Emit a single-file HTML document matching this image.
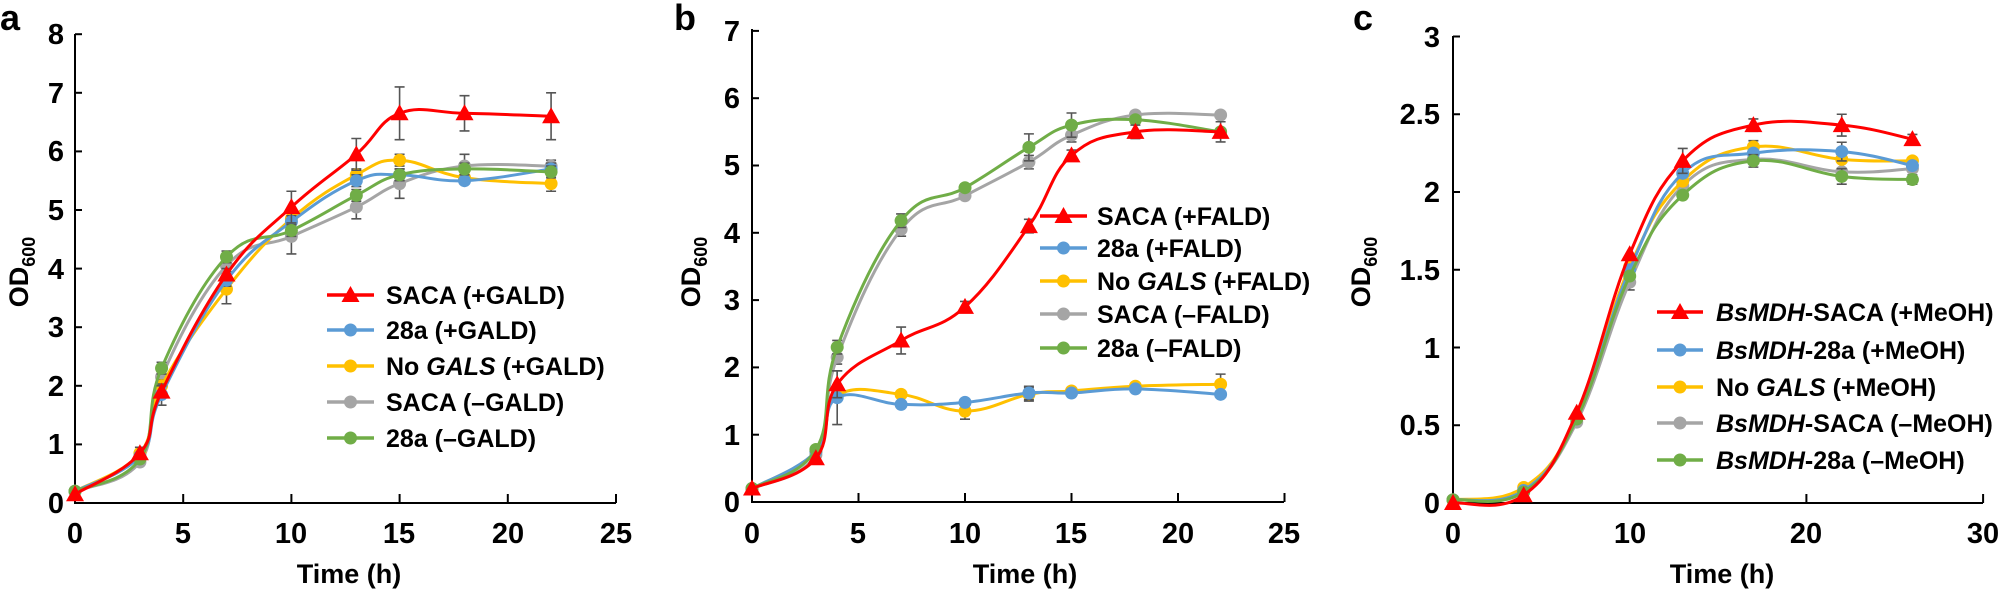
<!DOCTYPE html>
<html><head><meta charset="utf-8"><style>
html,body{margin:0;padding:0;background:#fff;}
svg{display:block;font-family:"Liberation Sans",Arial,sans-serif;font-weight:bold;}
.t{font-size:29px;}
.l{font-size:25px;}
</style></head><body>
<svg id="s" width="1998" height="590" viewBox="0 0 1998 590" xmlns="http://www.w3.org/2000/svg">
<g id="plots"></g>
<!-- Panel a text -->
<text x="0" y="30" font-size="36">a</text>
<g class="t" text-anchor="end">
<text x="64" y="513">0</text><text x="64" y="454">1</text><text x="64" y="396">2</text><text x="64" y="337">3</text><text x="64" y="279">4</text><text x="64" y="220">5</text><text x="64" y="161">6</text><text x="64" y="103">7</text><text x="64" y="44">8</text>
</g>
<g class="t" text-anchor="middle">
<text x="75" y="543">0</text><text x="183" y="543">5</text><text x="291" y="543">10</text><text x="399" y="543">15</text><text x="508" y="543">20</text><text x="616" y="543">25</text>
<text x="349" y="583" font-size="27">Time (h)</text>
</g>
<text transform="translate(28,272) rotate(-90)" text-anchor="middle" font-size="27">OD<tspan font-size="18" dy="7">600</tspan></text>
<g class="l">
<text x="386" y="304">SACA (+GALD)</text>
<text x="386" y="339">28a (+GALD)</text>
<text x="386" y="375">No <tspan font-style="italic">GALS</tspan>  (+GALD)</text>
<text x="386" y="411">SACA (–GALD)</text>
<text x="386" y="447">28a (–GALD)</text>
</g>
<!-- Panel b text -->
<text x="674" y="30" font-size="36">b</text>
<g class="t" text-anchor="end">
<text x="740" y="512">0</text><text x="740" y="445">1</text><text x="740" y="377">2</text><text x="740" y="310">3</text><text x="740" y="243">4</text><text x="740" y="175">5</text><text x="740" y="108">6</text><text x="740" y="41">7</text>
</g>
<g class="t" text-anchor="middle">
<text x="752" y="543">0</text><text x="858" y="543">5</text><text x="965" y="543">10</text><text x="1071" y="543">15</text><text x="1178" y="543">20</text><text x="1284" y="543">25</text>
<text x="1025" y="583" font-size="27">Time (h)</text>
</g>
<text transform="translate(700,272) rotate(-90)" text-anchor="middle" font-size="27">OD<tspan font-size="18" dy="7">600</tspan></text>
<g class="l">
<text x="1097" y="225">SACA (+FALD)</text>
<text x="1097" y="257">28a (+FALD)</text>
<text x="1097" y="290">No <tspan font-style="italic">GALS</tspan> (+FALD)</text>
<text x="1097" y="323">SACA (–FALD)</text>
<text x="1097" y="357">28a (–FALD)</text>
</g>
<!-- Panel c text -->
<text x="1353" y="30" font-size="36">c</text>
<g class="t" text-anchor="end">
<text x="1440" y="513">0</text><text x="1440" y="435">0.5</text><text x="1440" y="358">1</text><text x="1440" y="280">1.5</text><text x="1440" y="202">2</text><text x="1440" y="124">2.5</text><text x="1440" y="47">3</text>
</g>
<g class="t" text-anchor="middle">
<text x="1453" y="543">0</text><text x="1630" y="543">10</text><text x="1806" y="543">20</text><text x="1983" y="543">30</text>
<text x="1722" y="583" font-size="27">Time (h)</text>
</g>
<text transform="translate(1370,272) rotate(-90)" text-anchor="middle" font-size="27">OD<tspan font-size="18" dy="7">600</tspan></text>
<g class="l">
<text x="1716" y="321"><tspan font-style="italic">BsMDH</tspan>-SACA (+MeOH)</text>
<text x="1716" y="359"><tspan font-style="italic">BsMDH</tspan>-28a (+MeOH)</text>
<text x="1716" y="396">No <tspan font-style="italic">GALS</tspan> (+MeOH)</text>
<text x="1716" y="432"><tspan font-style="italic">BsMDH</tspan>-SACA (–MeOH)</text>
<text x="1716" y="469"><tspan font-style="italic">BsMDH</tspan>-28a (–MeOH)</text>
</g>
</svg>
<script>
var NS="http://www.w3.org/2000/svg",G=document.getElementById("plots");
function el(n,a){var e=document.createElementNS(NS,n);for(var k in a)e.setAttribute(k,a[k]);G.appendChild(e);return e;}
var C=["#ff0000","#5b9bd5","#ffc000","#a5a5a5","#70ad47"];
function spline(p){var d="M"+p[0][0]+","+p[0][1];for(var i=0;i<p.length-1;i++){var p0=p[i-1]||p[i],p1=p[i],p2=p[i+1],p3=p[i+2]||p2;var t=0.2;
d+=" C"+(p1[0]+(p2[0]-p0[0])*t)+","+(p1[1]+(p2[1]-p0[1])*t)+" "+(p2[0]-(p3[0]-p1[0])*t)+","+(p2[1]-(p3[1]-p1[1])*t)+" "+p2[0]+","+p2[1];}return d;}
function marker(x,y,i){if(i==0)el("polygon",{points:(x)+","+(y-9)+" "+(x-9)+","+(y+7)+" "+(x+9)+","+(y+7),fill:C[0]});else el("circle",{cx:x,cy:y,r:6.5,fill:C[i]});}
function panel(o){
 // axes
 el("path",{d:"M"+o.x0+","+o.yt+" V"+o.y0+" H"+o.x1,stroke:"#000","stroke-width":2,fill:"none"});
 o.yticks.forEach(function(v){var y=o.y0-v*o.ky;el("line",{x1:o.x0,x2:o.x0+7,y1:y,y2:y,stroke:"#000","stroke-width":2});});
 o.xticks.forEach(function(t){var x=o.x0+t*o.kx;el("line",{x1:x,x2:x,y1:o.y0,y2:o.y0-9,stroke:"#000","stroke-width":2});});
 var order=[3,2,1,4,0];
 order.forEach(function(i){var s=o.data[i];var pts=o.t.map(function(t,j){return [o.x0+t*o.kx,o.y0-s[j]*o.ky];});
  if(o.err&&o.err[i])o.err[i].forEach(function(e,j){if(!e)return;var x=pts[j][0],y=pts[j][1],h=e*o.ky;
   el("path",{d:"M"+x+","+(y-h)+"V"+(y+h)+"M"+(x-5)+","+(y-h)+"H"+(x+5)+"M"+(x-5)+","+(y+h)+"H"+(x+5),stroke:"#555","stroke-width":1.6,fill:"none"});});
  el("path",{d:spline(pts),stroke:C[i],"stroke-width":3,fill:"none"});
  pts.forEach(function(p){marker(p[0],p[1],i);});});
 o.leg.forEach(function(y,i){el("line",{x1:o.lx0,x2:o.lx1,y1:y,y2:y,stroke:C[i],"stroke-width":3.5});marker((o.lx0+o.lx1)/2,y,i);});
}
panel({x0:75,x1:616,y0:503,yt:34,kx:21.64,ky:58.6,yticks:[1,2,3,4,5,6,7,8],xticks:[5,10,15,20,25],
 t:[0,3,4,7,10,13,15,18,22],
 data:[[0.15,0.85,1.9,3.9,5.05,5.95,6.65,6.65,6.6],[0.2,0.8,1.85,3.8,4.8,5.5,5.6,5.5,5.7],[0.2,0.85,2.0,3.65,4.85,5.6,5.85,5.55,5.45],[0.2,0.7,2.15,4.05,4.55,5.05,5.45,5.75,5.75],[0.2,0.75,2.3,4.2,4.65,5.25,5.6,5.7,5.65]],
 err:[[0,0.1,0.1,0.1,0.27,0.27,0.45,0.3,0.4],[0,0,0.18,0.1,0.1,0.1,0.1,0.05,0.1],[0,0,0.1,0.25,0.1,0.1,0.1,0.05,0.13],[0,0,0.2,0.1,0.3,0.2,0.25,0.2,0.1],[0,0,0.1,0.1,0.1,0.1,0.1,0.1,0.1]],
 leg:[295,330,366,402,438],lx0:327,lx1:374});
panel({x0:752,x1:1284,y0:502,yt:29,kx:21.3,ky:67.3,yticks:[1,2,3,4,5,6,7],xticks:[5,10,15,20,25],
 t:[0,3,4,7,10,13,15,18,22],
 data:[[0.2,0.65,1.75,2.4,2.9,4.1,5.15,5.5,5.5],[0.2,0.75,1.55,1.45,1.48,1.62,1.62,1.68,1.6],[0.2,0.75,1.58,1.6,1.35,1.6,1.65,1.72,1.75],[0.2,0.7,2.15,4.05,4.55,5.05,5.45,5.75,5.75],[0.2,0.78,2.3,4.18,4.67,5.27,5.6,5.68,5.5]],
 err:[[0,0,0.2,0.2,0.08,0.1,0.08,0.1,0.15],[0,0,0.4,0,0,0.1,0,0,0],[0,0,0,0,0.12,0.1,0,0,0.15],[0,0,0.1,0.1,0,0.1,0.1,0.05,0],[0,0,0.1,0.1,0,0.2,0.18,0,0]],
 leg:[216,248,281,314,348],lx0:1040,lx1:1087});
panel({x0:1453,x1:1983,y0:503,yt:36,kx:17.67,ky:155.5,yticks:[0.5,1,1.5,2,2.5,3],xticks:[10,20,30],
 t:[0,4,7,10,13,17,22,26],
 data:[[0,0.05,0.58,1.6,2.2,2.43,2.43,2.34],[0.02,0.08,0.55,1.5,2.12,2.25,2.26,2.17],[0.02,0.1,0.55,1.52,2.07,2.29,2.21,2.2],[0.02,0.08,0.52,1.42,2.04,2.21,2.13,2.15],[0.02,0.07,0.54,1.46,1.98,2.2,2.1,2.08]],
 err:[[0,0,0,0,0.08,0.04,0.07,0.03],[0,0,0,0,0,0,0.06,0],[0,0,0,0,0,0.04,0,0],[0,0,0,0.05,0,0,0,0],[0,0,0,0,0,0.04,0.05,0.03]],
 leg:[312,350,387,423,460],lx0:1657,lx1:1703});
</script>
</body></html>
